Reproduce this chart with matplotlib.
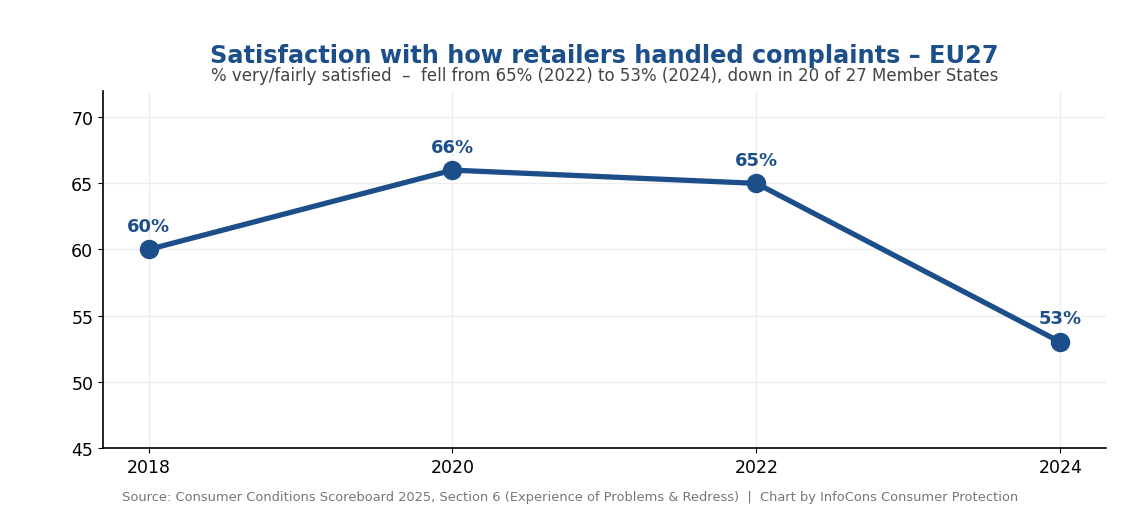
import matplotlib
matplotlib.use("Agg")
import matplotlib.pyplot as plt

years = [2018, 2020, 2022, 2024]
satisfied = [60, 66, 65, 53]
labels = ["60%", "66%", "65%", "53%"]

blue = "#1c4f8a"

fig, ax = plt.subplots(figsize=(11.4, 5.1), dpi=100)
fig.subplots_adjust(left=0.0904, right=0.970, top=0.820, bottom=0.120)

ax.plot(years, satisfied, color=blue, linewidth=3.8, marker="o", markersize=13, zorder=3)
for x, y, t in zip(years, satisfied, labels):
    ax.annotate(t, (x, y), xytext=(0, 10.5), textcoords="offset points",
                ha="center", va="bottom", fontsize=13, fontweight="bold", color=blue)

ax.set_ylim(45, 72)
ax.set_xticks(years)
ax.set_yticks([45, 50, 55, 60, 65, 70])
ax.tick_params(labelsize=12.5)
ax.grid(True, color="#eeeeee", linewidth=1)
ax.set_axisbelow(True)
ax.spines["top"].set_visible(False)
ax.spines["right"].set_visible(False)
ax.spines["left"].set_linewidth(1.2)
ax.spines["bottom"].set_linewidth(1.2)

ax.text(0.5, 1.068, "Satisfaction with how retailers handled complaints – EU27",
        transform=ax.transAxes, ha="center", va="bottom",
        fontsize=17.3, fontweight="bold", color=blue)
ax.text(0.5, 1.02, "% very/fairly satisfied  –  fell from 65% (2022) to 53% (2024), down in 20 of 27 Member States",
        transform=ax.transAxes, ha="center", va="bottom", fontsize=12, color="#444444")

fig.text(0.5, 0.012, "Source: Consumer Conditions Scoreboard 2025, Section 6 (Experience of Problems & Redress)  |  Chart by InfoCons Consumer Protection",
         ha="center", va="bottom", fontsize=9.4, color="#777777")

fig.savefig("out.png", dpi=100)
